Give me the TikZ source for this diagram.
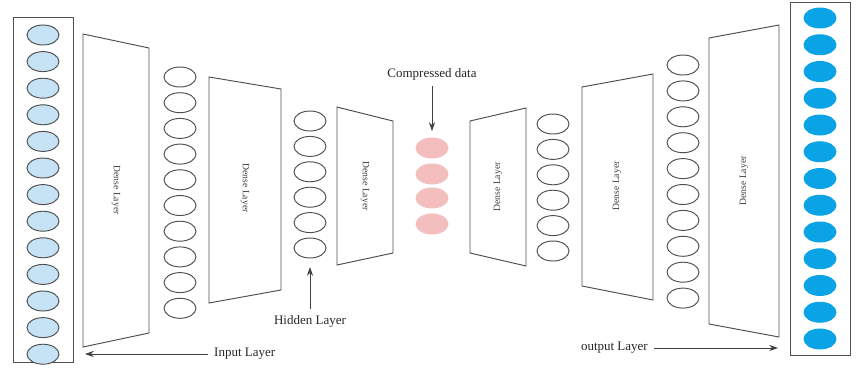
\documentclass[tikz,border=0pt]{standalone}
\usepackage{fontspec}
\setmainfont{Liberation Serif}
\usetikzlibrary{shapes.geometric, arrows.meta}

\definecolor{inblue}{HTML}{C6E2F5}
\definecolor{outblue}{HTML}{0AA3E6}
\definecolor{codepink}{HTML}{F5BEBE}
\definecolor{linegray}{HTML}{505050}

\tikzset{
    unit/.style={ellipse, draw=linegray, line width=0.55pt, fill=white, minimum width=0.64cm, minimum height=0.4cm, inner sep=0pt},
    inunit/.style={unit, fill=inblue},
    outunit/.style={unit, draw=outblue, fill=outblue},
    codeunit/.style={unit, draw=codepink, fill=codepink},
    layer/.style={draw=linegray, line width=0.55pt},
    layertext/.style={font=\fontsize{5.5}{6}\selectfont, text=black!75},
    tag/.style={font=\fontsize{7.4}{9}\selectfont, text=black!85},
    pointer/.style={draw=black!75, line width=0.5pt, -{Stealth[length=5pt, width=3.5pt]}}
}

\begin{document}
\begin{tikzpicture}[x=0.02cm, y=-0.02cm]
    \useasboundingbox (0,0) rectangle (866,376);

    % Input column
    \draw[layer] (13,17) rectangle (73,362);
    \foreach \i in {1,...,13}
        \node[inunit] (in\i) at (43, {35+26.6*(\i-1)}) {};

    % Encoder dense layers
    \draw[layer] (83,34) -- (149,48) -- (149,333) -- (83,347) -- cycle;
    \node[layertext, rotate=-90] (dl1) at (116,190) {Dense Layer};
    \foreach \i in {1,...,10}
        \node[unit] (ea\i) at (180, {77+25.7*(\i-1)}) {};

    \draw[layer] (209,77) -- (281,89) -- (281,290) -- (209,303) -- cycle;
    \node[layertext, rotate=-90] (dl2) at (245,188) {Dense Layer};
    \foreach \i in {1,...,6}
        \node[unit] (hid\i) at (310, {121+25.4*(\i-1)}) {};

    \draw[layer] (337,107) -- (393,121) -- (393,253) -- (337,265) -- cycle;
    \node[layertext, rotate=-90] (dl3) at (365,186) {Dense Layer};

    % Compressed data
    \node[codeunit] (z1) at (432,148) {};
    \node[codeunit] (z2) at (432,174) {};
    \node[codeunit] (z3) at (432,198) {};
    \node[codeunit] (z4) at (432,224) {};

    % Decoder dense layers
    \draw[layer] (470,121) -- (526,108) -- (526,266) -- (470,253) -- cycle;
    \node[layertext, rotate=90] (dl4) at (498,187) {Dense Layer};
    \foreach \i in {1,...,6}
        \node[unit] (da\i) at (553, {124+25.4*(\i-1)}) {};

    \draw[layer] (582,87) -- (653,74) -- (653,300) -- (582,286) -- cycle;
    \node[layertext, rotate=90] (dl5) at (617,186) {Dense Layer};
    \foreach \i in {1,...,10}
        \node[unit] (db\i) at (683, {65+25.9*(\i-1)}) {};

    \draw[layer] (709,38) -- (779,25) -- (779,337) -- (709,324) -- cycle;
    \node[layertext, rotate=90] (dl6) at (744,181) {Dense Layer};

    % Output column
    \draw[layer] (790,2) rectangle (850,355);
    \foreach \i in {1,...,13}
        \node[outunit] (out\i) at (820, {18+26.75*(\i-1)}) {};

    % Labels
    \node[tag] (cdata) at (432,74) {Compressed data};
    \coordinate (cdtip) at (432,131);
    \draw[pointer] (cdata) -- (cdtip);

    \node[tag] (hlayer) at (310,321) {Hidden Layer};
    \coordinate (hltip) at (310,267);
    \draw[pointer] (hlayer) -- (hltip);

    \node[tag, anchor=west] (ilayer) at (208,354) {Input Layer};
    \coordinate (iltip) at (85,354);
    \draw[pointer] (ilayer) -- (iltip);

    \node[tag, anchor=east] (olayer) at (654,348) {output Layer};
    \coordinate (oltip) at (778,348);
    \draw[pointer] (olayer) -- (oltip);
\end{tikzpicture}
\end{document}
